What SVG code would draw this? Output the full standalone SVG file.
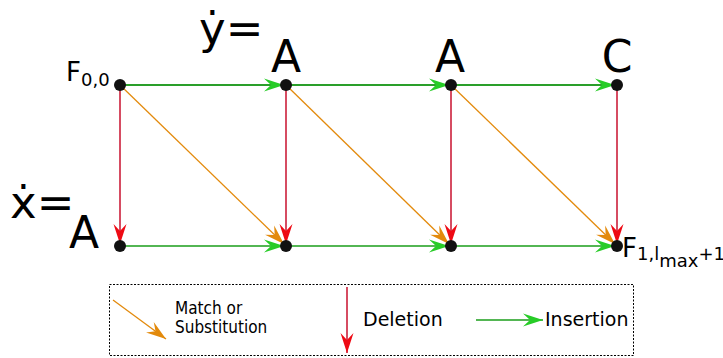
<svg xmlns="http://www.w3.org/2000/svg" width="723" height="358" viewBox="0 0 723 358">
<style>
text{font-family:"DejaVu Sans","Liberation Sans",sans-serif;fill:#000}
.big{font-size:44px}
.eq{font-size:45px}
.ins{stroke:#2a9f2a;stroke-width:2;fill:none}
.ins2{stroke:#1a9e1a;stroke-width:1.4;fill:none}
.del{stroke:#c8102e;stroke-width:1.5;fill:none}
.sub{stroke:#e38a0c;stroke-width:1.3;fill:none}
.dot{fill:#111}
.leg{font-size:19px}
.legs{font-family:"DejaVu Sans Condensed","DejaVu Sans",sans-serif;font-size:17px}
</style>
<defs>
<marker id="mg" viewBox="-22 -8 24 16" refX="0" refY="0" markerWidth="24" markerHeight="16" markerUnits="userSpaceOnUse" orient="auto" overflow="visible">
<path d="M0,0 L-20,-6.5 L-13,0 L-20,6.5 Z" fill="#27cc27"/>
</marker>
<marker id="mr" viewBox="-22 -8 24 16" refX="0" refY="0" markerWidth="24" markerHeight="16" markerUnits="userSpaceOnUse" orient="auto" overflow="visible">
<path d="M0,0 L-20,-6.5 L-13,0 L-20,6.5 Z" fill="#ee0a14"/>
</marker>
<marker id="mo" viewBox="-22 -8 24 16" refX="0" refY="0" markerWidth="24" markerHeight="16" markerUnits="userSpaceOnUse" orient="auto" overflow="visible">
<path d="M0,0 L-20,-6.5 L-13,0 L-20,6.5 Z" fill="#e38a0c"/>
</marker>
</defs>
<g id="connectors">
<line class="ins" x1="120" y1="85" x2="284" y2="85" marker-end="url(#mg)"/>
<line class="ins" x1="286" y1="85" x2="449" y2="85" marker-end="url(#mg)"/>
<line class="ins" x1="451" y1="85" x2="615" y2="85" marker-end="url(#mg)"/>
<line class="ins2" x1="120" y1="246" x2="284" y2="246" marker-end="url(#mg)"/>
<line class="ins2" x1="286" y1="246" x2="449" y2="246" marker-end="url(#mg)"/>
<line class="ins2" x1="451" y1="246" x2="615" y2="246" marker-end="url(#mg)"/>
<line class="del" x1="120" y1="85" x2="120" y2="244" marker-end="url(#mr)"/>
<line class="del" x1="286" y1="85" x2="286" y2="244" marker-end="url(#mr)"/>
<line class="del" x1="451" y1="85" x2="451" y2="244" marker-end="url(#mr)"/>
<line class="del" x1="617" y1="85" x2="617" y2="244" marker-end="url(#mr)"/>
<line class="sub" x1="120" y1="85" x2="284" y2="244" marker-end="url(#mo)"/>
<line class="sub" x1="286" y1="85" x2="449" y2="244" marker-end="url(#mo)"/>
<line class="sub" x1="451" y1="85" x2="615" y2="244" marker-end="url(#mo)"/>
</g>
<g id="n00"><circle class="dot" cx="120" cy="85" r="6"/><text x="66" y="81" font-size="26">F<tspan font-size="18" dy="5">0,0</tspan></text></g>
<g id="n01"><circle class="dot" cx="286" cy="85" r="6"/><text class="big" x="286" y="72" text-anchor="middle">A</text></g>
<g id="n02"><circle class="dot" cx="451" cy="85" r="6"/><text class="big" x="450" y="72" text-anchor="middle">A</text></g>
<g id="n03"><circle class="dot" cx="617" cy="85" r="6"/><text class="big" x="617" y="72" text-anchor="middle">C</text></g>
<g id="n10"><circle class="dot" cx="120" cy="246" r="6"/><text class="big" x="84" y="248" text-anchor="middle">A</text></g>
<g id="n11"><circle class="dot" cx="286" cy="246" r="6"/></g>
<g id="n12"><circle class="dot" cx="451" cy="246" r="6"/></g>
<g id="n13"><circle class="dot" cx="617" cy="246" r="6"/><text x="622" y="257" font-size="26">F<tspan font-size="18" dy="3">1,l</tspan><tspan font-size="18" dy="7">max</tspan><tspan font-size="18" dy="-7">+1</tspan></text></g>
<g id="ylabel"><text class="eq" x="199" y="44">ẏ=</text></g>
<g id="xlabel"><text class="eq" x="10" y="218">ẋ=</text></g>
<g id="legend">
<rect x="109.5" y="284.5" width="524" height="71" fill="none" stroke="#000" stroke-width="1" stroke-dasharray="2,1.5"/>
<line class="sub" x1="113" y1="300" x2="166" y2="339" marker-end="url(#mo)"/>
<text class="legs" x="175" y="314">Match or</text>
<text class="legs" x="175" y="333">Substitution</text>
<line class="del" x1="347" y1="287" x2="347" y2="353" marker-end="url(#mr)"/>
<text class="leg" x="363" y="326">Deletion</text>
<line class="ins2" x1="476" y1="320" x2="543" y2="320" marker-end="url(#mg)"/>
<text class="leg" x="545" y="326">Insertion</text>
</g>
</svg>
